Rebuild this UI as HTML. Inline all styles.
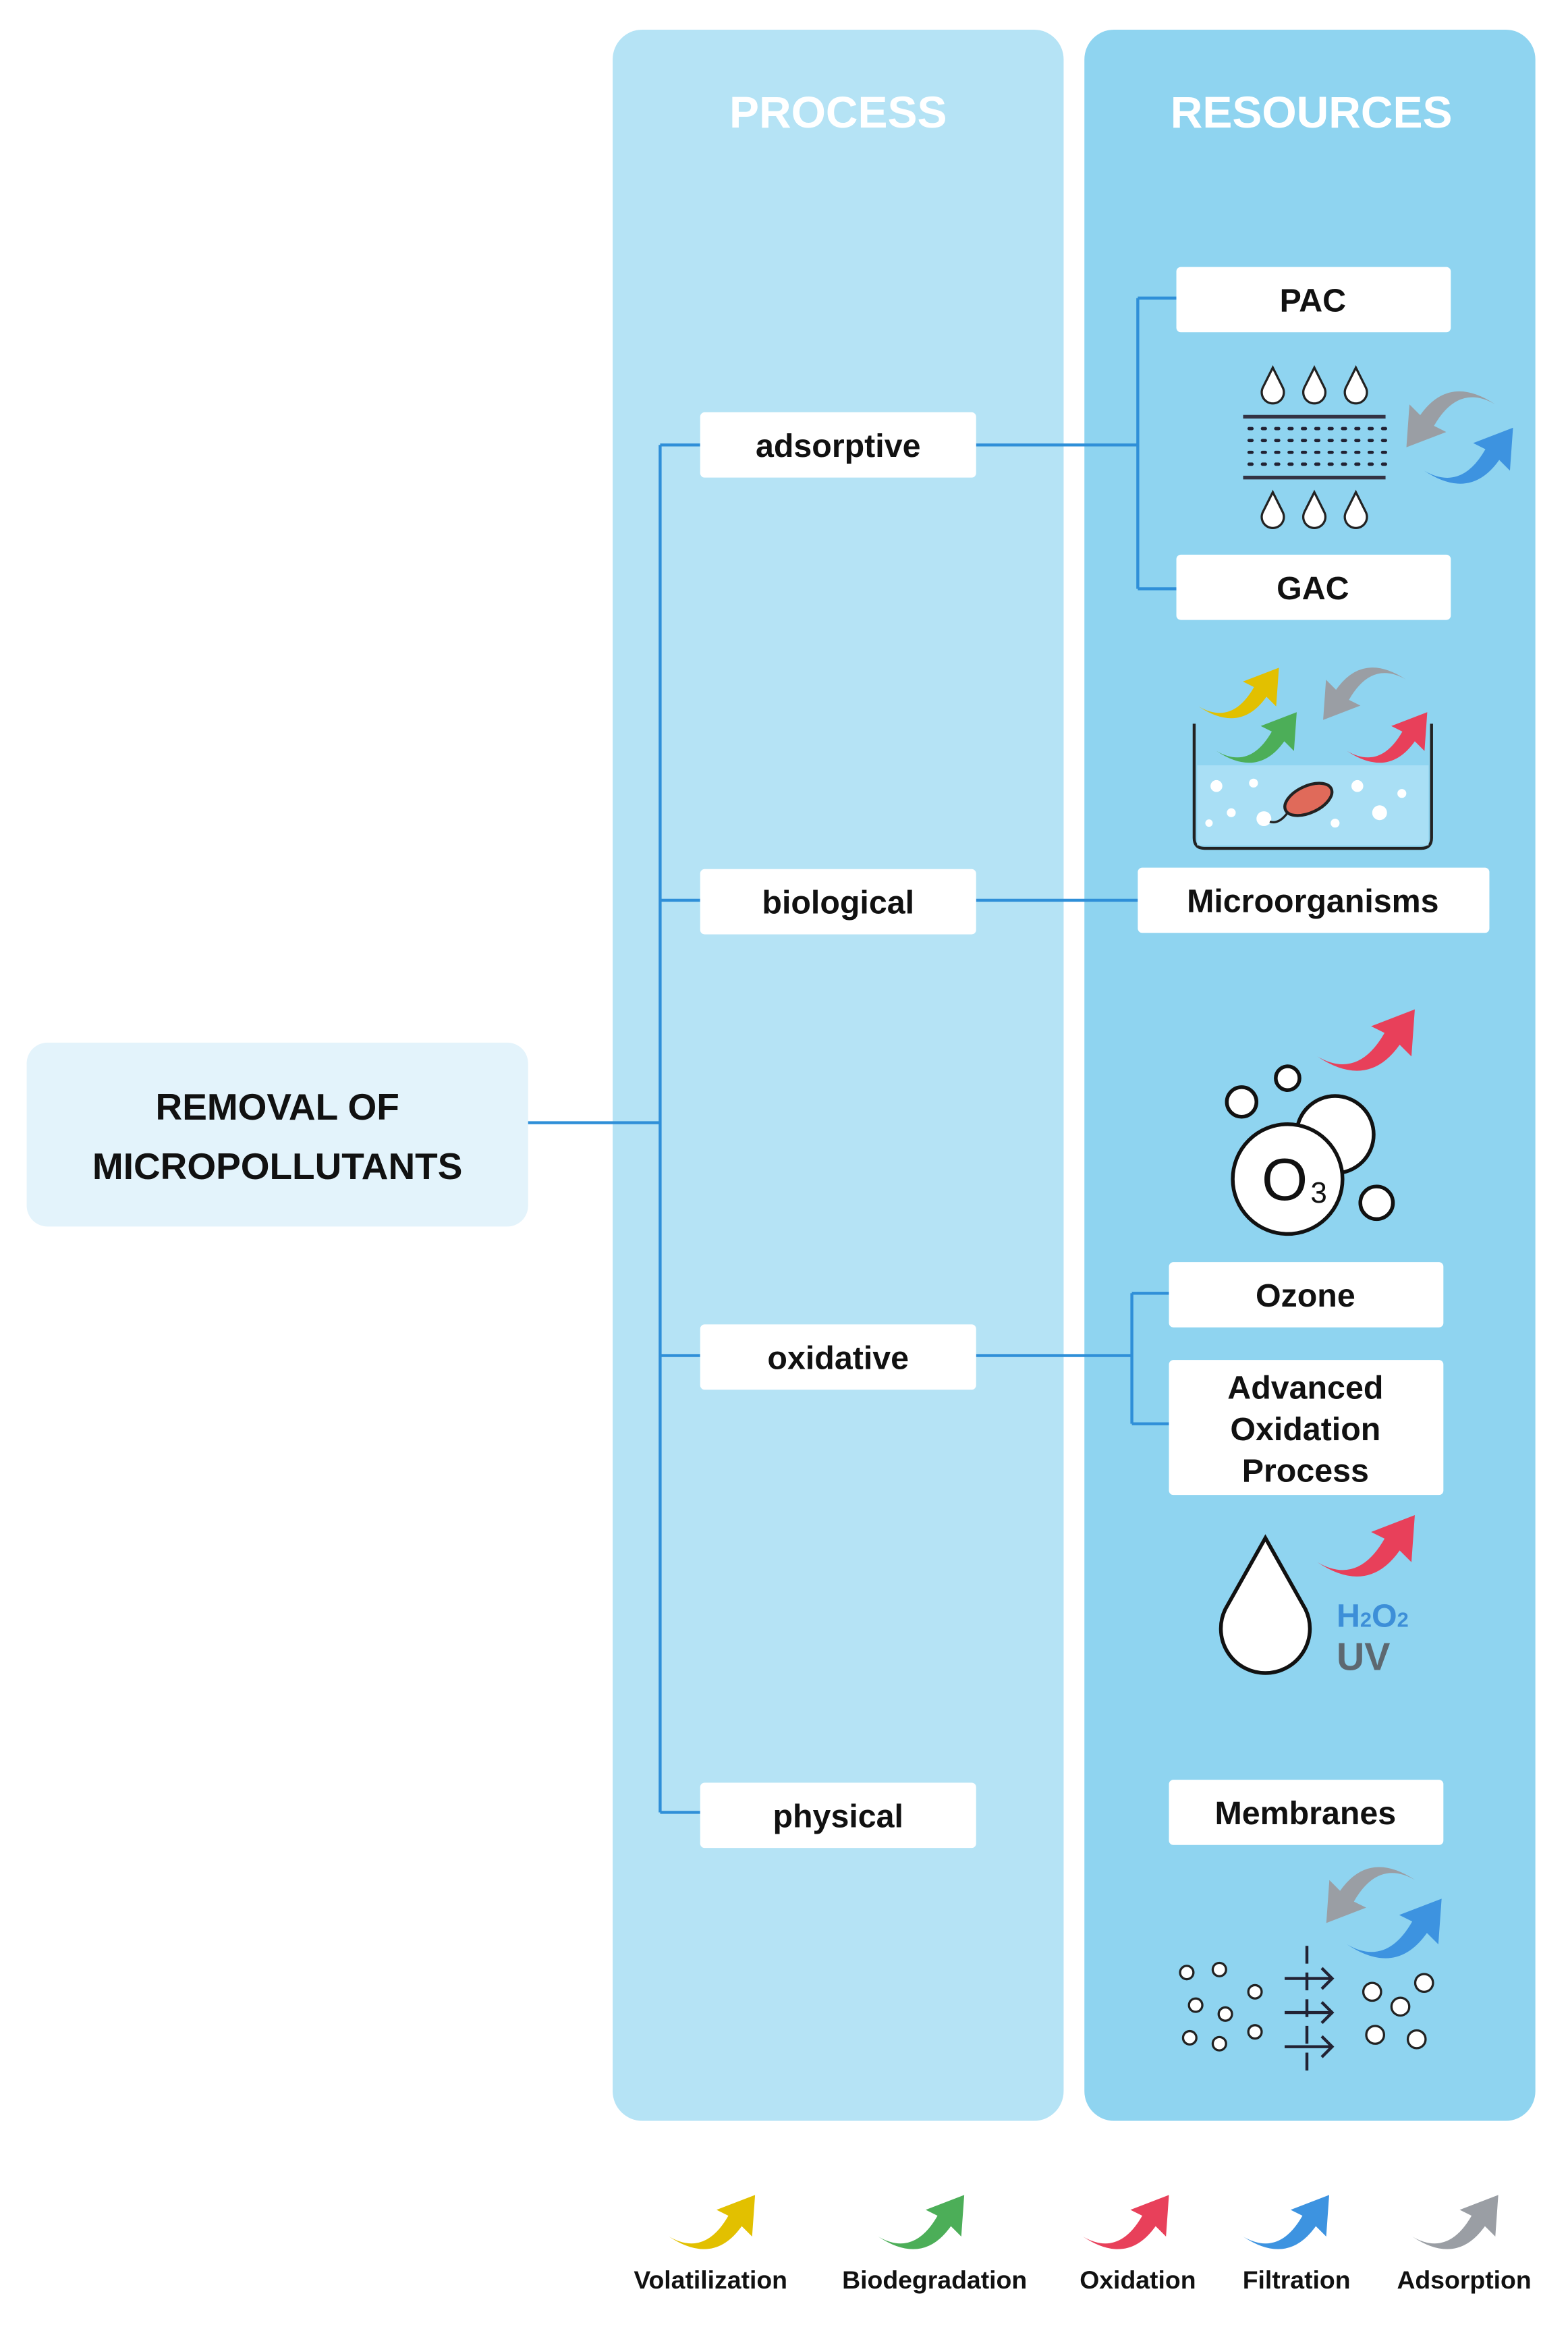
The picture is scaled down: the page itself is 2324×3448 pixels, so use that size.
<!DOCTYPE html>
<html><head><meta charset="utf-8"><style>
html,body{margin:0;padding:0;background:#fff;}
svg{display:block}
text{font-family:"Liberation Sans",sans-serif;font-weight:bold;}
</style></head><body>
<svg width="2324" height="3448" viewBox="0 0 1057 1569" preserveAspectRatio="none" xmlns="http://www.w3.org/2000/svg">
<defs>
<symbol id="arr" viewBox="0 0 60 40">
<path d="M0,30 Q24,44 40,16 L32,12 L58,2 L56,30 L49,23 Q30,50 0,30 Z"/>
</symbol>
<symbol id="drop" viewBox="0 0 20 30">
<path d="M10,2 L17,16 A8,8 0 1 1 3,16 Z" fill="#fff" stroke="#222" stroke-width="1.6"/>
</symbol>
</defs>
<rect x="0" y="0" width="1057" height="1569" fill="#fff"/>
<rect x="413" y="20" width="304" height="1410" rx="20" fill="#b5e3f5"/>
<rect x="731" y="20" width="304" height="1410" rx="20" fill="#8fd4f0"/>
<text x="565" y="86" font-size="30" fill="#fff" text-anchor="middle">PROCESS</text>
<text x="884" y="86" font-size="30" fill="#fff" text-anchor="middle">RESOURCES</text>
<rect x="18" y="703" width="338" height="124" rx="14" fill="#e3f3fb"/>
<text x="187" y="755" font-size="25" fill="#111" text-anchor="middle">REMOVAL OF</text>
<text x="187" y="795" font-size="25" fill="#111" text-anchor="middle">MICROPOLLUTANTS</text>
<g stroke="#2f8fd8" stroke-width="2" fill="none">
<path d="M356,757 H445 M445,300 V1222 M445,300 H472 M445,607 H472 M445,914 H472 M445,1222 H472"/>
<path d="M658,300 H767 M767,201 V397 M767,201 H793 M767,397 H793"/>
<path d="M658,607 H767"/>
<path d="M658,914 H763 M763,872 V960 M763,872 H788 M763,960 H788"/>
</g>
<g fill="#fff">
<rect x="472" y="278" width="186" height="44" rx="3"/>
<rect x="472" y="586" width="186" height="44" rx="3"/>
<rect x="472" y="893" width="186" height="44" rx="3"/>
<rect x="472" y="1202" width="186" height="44" rx="3"/>
<rect x="793" y="180" width="185" height="44" rx="3"/>
<rect x="793" y="374" width="185" height="44" rx="3"/>
<rect x="767" y="585" width="237" height="44" rx="3"/>
<rect x="788" y="851" width="185" height="44" rx="3"/>
<rect x="788" y="917" width="185" height="91" rx="3"/>
<rect x="788" y="1200" width="185" height="44" rx="3"/>
</g>
<g font-size="22" fill="#111" text-anchor="middle">
<text x="565" y="308">adsorptive</text>
<text x="565" y="616">biological</text>
<text x="565" y="923">oxidative</text>
<text x="565" y="1232">physical</text>
<text x="885" y="210">PAC</text>
<text x="885" y="404">GAC</text>
<text x="885" y="615">Microorganisms</text>
<text x="880" y="881">Ozone</text>
<text x="880" y="943">Advanced</text>
<text x="880" y="971">Oxidation</text>
<text x="880" y="999">Process</text>
<text x="880" y="1230">Membranes</text>
</g>
<use href="#drop" x="848" y="246" width="20" height="28"/>
<use href="#drop" x="876" y="246" width="20" height="28"/>
<use href="#drop" x="904" y="246" width="20" height="28"/>
<use href="#drop" x="848" y="330" width="20" height="28"/>
<use href="#drop" x="876" y="330" width="20" height="28"/>
<use href="#drop" x="904" y="330" width="20" height="28"/>
<line x1="838" y1="281" x2="934" y2="281" stroke="#334" stroke-width="2.5"/>
<line x1="838" y1="322" x2="934" y2="322" stroke="#334" stroke-width="2.5"/>
<g stroke="#223" stroke-width="2.2" stroke-dasharray="2 7" stroke-linecap="round">
<line x1="842" y1="289" x2="934" y2="289"/><line x1="842" y1="297" x2="934" y2="297"/>
<line x1="842" y1="305" x2="934" y2="305"/><line x1="842" y1="313" x2="934" y2="313"/>
</g>
<use href="#arr" x="946" y="262" width="62" height="42" fill="#9a9ea4" transform="rotate(180 977 283)"/>
<use href="#arr" x="960" y="285" width="62" height="44" fill="#3d93e0"/>
<path d="M805,488 V565 Q805,572 812,572 H958 Q965,572 965,565 V488" fill="none" stroke="#222" stroke-width="2"/>
<rect x="807" y="516" width="156" height="54" fill="#a9dff5"/>
<g fill="#fff">
<circle cx="820" cy="530" r="4"/><circle cx="830" cy="548" r="3"/><circle cx="852" cy="552" r="5"/>
<circle cx="845" cy="528" r="3"/><circle cx="915" cy="530" r="4"/><circle cx="930" cy="548" r="5"/>
<circle cx="945" cy="535" r="3"/><circle cx="900" cy="555" r="3"/><circle cx="815" cy="555" r="2.5"/>
</g>
<ellipse cx="882" cy="539" rx="17" ry="9" fill="#e06a5a" stroke="#222" stroke-width="2" transform="rotate(-25 882 539)"/>
<path d="M868,548 q-6,8 -12,6" stroke="#222" fill="none" stroke-width="1.5"/>
<use href="#arr" x="808" y="448" width="56" height="38" fill="#e2c000"/>
<use href="#arr" x="820" y="478" width="56" height="38" fill="#4cae58"/>
<use href="#arr" x="890" y="448" width="58" height="40" fill="#9a9ea4" transform="rotate(180 919 468)"/>
<use href="#arr" x="908" y="478" width="56" height="38" fill="#e8405a"/>
<g fill="#fff" stroke="#111" stroke-width="2.5">
<circle cx="900" cy="765" r="26"/>
<circle cx="868" cy="795" r="37"/>
<circle cx="837" cy="743" r="10"/>
<circle cx="868" cy="727" r="8"/>
<circle cx="928" cy="811" r="11"/>
</g>
<text x="866" y="809" font-size="40" fill="#111" text-anchor="middle" style="font-weight:normal">O</text>
<text x="889" y="811" font-size="20" fill="#111" text-anchor="middle" style="font-weight:normal">3</text>
<use href="#arr" x="888" y="678" width="68" height="46" fill="#e8405a"/>
<path d="M853,1037 L880,1085 A30,30 0 1 1 826,1085 Z" fill="#fff" stroke="#111" stroke-width="2.5"/>
<use href="#arr" x="888" y="1019" width="68" height="46" fill="#e8405a"/>
<text x="901" y="1097" font-size="22" fill="#3d8fd8">H<tspan font-size="14">2</tspan>O<tspan font-size="14">2</tspan></text>
<text x="901" y="1126" font-size="26" fill="#5d6870">UV</text>
<use href="#arr" x="892" y="1256" width="62" height="44" fill="#9a9ea4" transform="rotate(180 923 1278)"/>
<use href="#arr" x="908" y="1276" width="66" height="48" fill="#3d93e0"/>
<g fill="#fff" stroke="#222" stroke-width="1.5">
<circle cx="800" cy="1330" r="4.5"/><circle cx="822" cy="1328" r="4.5"/><circle cx="846" cy="1343" r="4.5"/>
<circle cx="806" cy="1352" r="4.5"/><circle cx="826" cy="1358" r="4.5"/><circle cx="802" cy="1374" r="4.5"/>
<circle cx="822" cy="1378" r="4.5"/><circle cx="846" cy="1370" r="4.5"/>
<circle cx="925" cy="1343" r="6"/><circle cx="960" cy="1337" r="6"/><circle cx="944" cy="1353" r="6"/>
<circle cx="927" cy="1372" r="6"/><circle cx="955" cy="1375" r="6"/>
</g>
<g stroke="#223" stroke-width="2" fill="none">
<path d="M881,1312 V1402" stroke-dasharray="12 6"/>
<path d="M866,1334 H898 M891,1327 L898,1334 L891,1341"/>
<path d="M866,1357 H898 M891,1350 L898,1357 L891,1364"/>
<path d="M866,1380 H898 M891,1373 L898,1380 L891,1387"/>
</g>
<use href="#arr" x="447" y="1478" width="68" height="40" fill="#e2c000"/>
<use href="#arr" x="588" y="1478" width="68" height="40" fill="#4cae58"/>
<use href="#arr" x="726" y="1478" width="68" height="40" fill="#e8405a"/>
<use href="#arr" x="834" y="1478" width="68" height="40" fill="#3d93e0"/>
<use href="#arr" x="948" y="1478" width="68" height="40" fill="#9a9ea4"/>
<g font-size="17" fill="#111" text-anchor="middle">
<text x="479" y="1543">Volatilization</text>
<text x="630" y="1543">Biodegradation</text>
<text x="767" y="1543">Oxidation</text>
<text x="874" y="1543">Filtration</text>
<text x="987" y="1543">Adsorption</text>
</g>
</svg>
</body></html>
